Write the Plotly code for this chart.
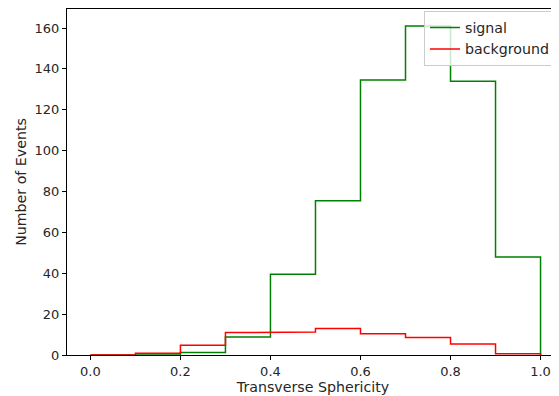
import plotly.graph_objects as go

bin_edges = [0.0, 0.1, 0.2, 0.3, 0.4, 0.5, 0.6, 0.7, 0.8, 0.9, 1.0]
signal_counts = [0, 0, 1.2, 8.8, 39.5, 75.5, 134.5, 161, 134, 48]
background_counts = [0, 0.8, 4.8, 11, 11.2, 13, 10.4, 8.6, 5.4, 0.6]
x_ticks = [0.0, 0.2, 0.4, 0.6, 0.8, 1.0]
y_ticks = [0, 20, 40, 60, 80, 100, 120, 140, 160]


def step_outline(edges, counts):
    xs = [edges[0]]
    ys = [0]
    for i, c in enumerate(counts):
        xs += [edges[i], edges[i + 1]]
        ys += [c, c]
    xs.append(edges[-1])
    ys.append(0)
    return xs, ys


fig = go.Figure()
sx, sy = step_outline(bin_edges, signal_counts)
bx, by = step_outline(bin_edges, background_counts)
fig.add_trace(go.Scatter(x=sx, y=sy, mode="lines", name="signal",
                         line=dict(color="#008000", width=1.5)))
fig.add_trace(go.Scatter(x=bx, y=by, mode="lines", name="background",
                         line=dict(color="#ff0000", width=1.5)))

font = dict(family="DejaVu Sans", size=13, color="#262626")
big = dict(family="DejaVu Sans", size=14.2, color="#262626")
fig.update_layout(
    width=551, height=388,
    margin=dict(l=59, r=0, t=1, b=41),
    paper_bgcolor="white", plot_bgcolor="white",
    font=font,
    showlegend=True,
    legend=dict(x=0.7256, y=0.995, xanchor="left", yanchor="top",
                bgcolor="rgba(255,255,255,0.8)", bordercolor="#cccccc",
                borderwidth=1, font=big, tracegroupgap=0),
    xaxis=dict(range=[-0.052, 1.041], tickvals=x_ticks,
               ticktext=[f"{v:.1f}" for v in x_ticks],
               showgrid=False, zeroline=False, showline=True,
               linecolor="black", linewidth=1, mirror=True,
               ticks="outside", ticklen=4, tickcolor="black",
               layer="above traces",
               title=dict(text="Transverse Sphericity", standoff=2, font=big)),
    yaxis=dict(range=[0, 169.3], tickvals=y_ticks,
               showgrid=False, zeroline=False, showline=True,
               linecolor="black", linewidth=1, mirror=False,
               ticks="outside", ticklen=4, tickcolor="black",
               layer="above traces",
               title=dict(text="Number of Events", standoff=4, font=big)),
)

fig.write_html("out.html")
